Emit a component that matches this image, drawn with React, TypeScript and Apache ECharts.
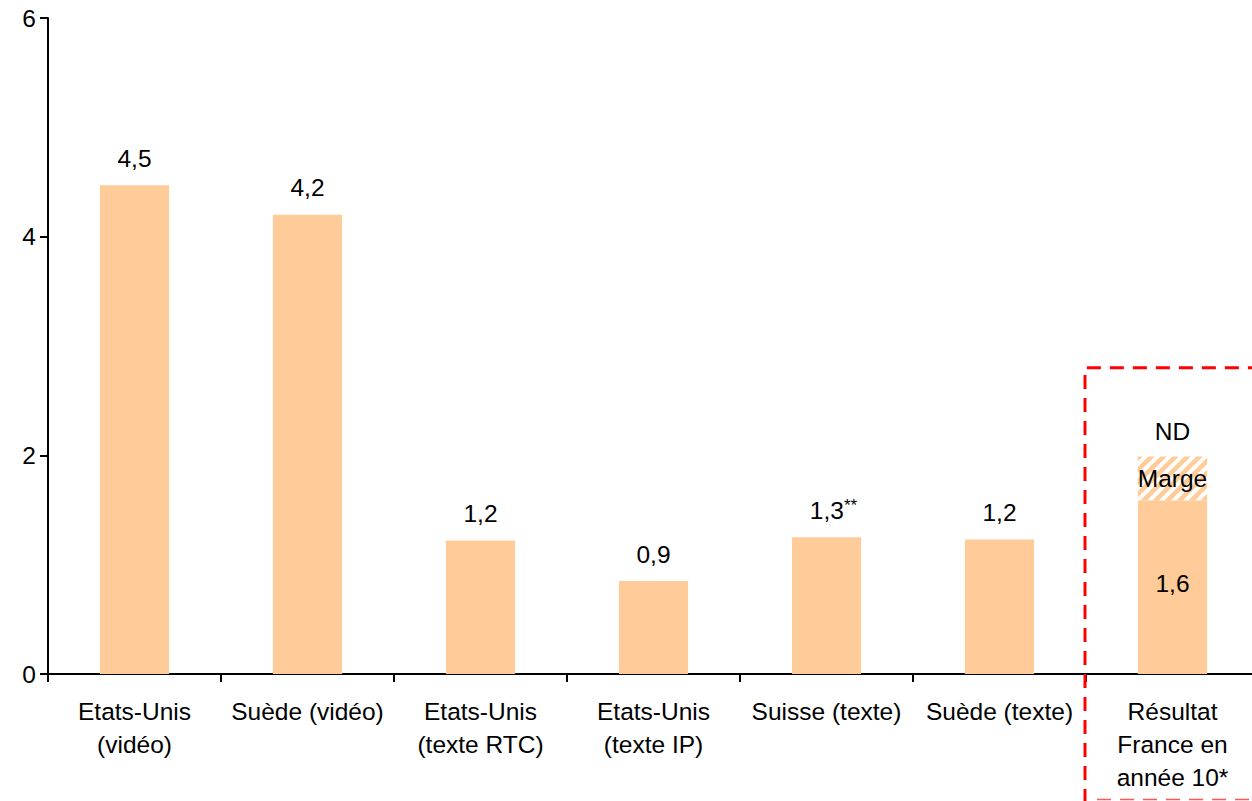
import React, { useEffect, useRef } from "react";
import * as echarts from "echarts";

const categories = [
  "Etats-Unis\n(vidéo)",
  "Suède (vidéo)",
  "Etats-Unis\n(texte RTC)",
  "Etats-Unis\n(texte IP)",
  "Suisse (texte)",
  "Suède (texte)",
  "Résultat\nFrance en\nannée 10*",
];
const baseValues = [4.47, 4.2, 1.22, 0.85, 1.25, 1.23, 1.59];
const valueLabels = ["4,5", "4,2", "1,2", "0,9", "1,3", "1,2", "1,6"];
const labelNotes = ["", "", "", "", "**", "", ""];
const marginValues = [null, null, null, null, null, null, 0.4];
const marginLabel = "Marge";
const ndValues = [null, null, null, null, null, null, 0];
const ndLabel = "ND";
const yMin = 0;
const yMax = 6;
const yInterval = 2;
const highlightIndex = 6;
const highlightTop = 2.8;

const FONT = "'Liberation Sans', Arial, Helvetica, sans-serif";
const BAR = "#FFCC99";
const FS = 24.5;

function makeHatch() {
  const s = 12;
  const c = document.createElement("canvas");
  c.width = s;
  c.height = s;
  const ctx = c.getContext("2d")!;
  ctx.fillStyle = "#ffffff";
  ctx.fillRect(0, 0, s, s);
  ctx.strokeStyle = BAR;
  ctx.lineWidth = 4.5;
  for (const o of [-s, 0, s]) {
    ctx.beginPath();
    ctx.moveTo(o - 2, s + 2);
    ctx.lineTo(o + s + 2, -2);
    ctx.stroke();
  }
  return c;
}

export default function App() {
  const ref = useRef<HTMLDivElement>(null);
  useEffect(() => {
    const chart = echarts.init(ref.current!, undefined, { renderer: "svg" });
    const hatch = makeHatch();
    const baseData = baseValues.map((v, i) => {
      const inside = i === highlightIndex;
      const note = labelNotes[i];
      return {
        value: v,
        label: {
          show: true,
          position: inside ? "inside" : "top",
          distance: 14,
          offset: inside ? [0, -4] : [0, 0],
          formatter: note
            ? `{pad| }{main|${valueLabels[i]}}{sup|${note}}`
            : `{main|${valueLabels[i]}}`,
          rich: {
            main: { fontSize: FS, fontFamily: FONT, color: "#000", lineHeight: 26 },
            sup: { fontSize: 17, fontFamily: FONT, color: "#000", verticalAlign: "top", lineHeight: 26 },
            pad: { width: 14, fontSize: 17 },
          },
        },
      };
    });
    chart.setOption({
      animation: false,
      backgroundColor: "#ffffff",
      textStyle: { fontFamily: FONT },
      grid: { left: 48, right: -7, top: 18, bottom: 127, containLabel: false, outerBoundsMode: "none" },
      xAxis: {
        type: "category",
        data: categories,
        axisLine: { lineStyle: { color: "#000", width: 2 } },
        axisTick: { show: true, length: 8, interval: 0, alignWithLabel: false, lineStyle: { color: "#000", width: 2 } },
        axisLabel: { interval: 0, fontSize: FS, fontFamily: FONT, color: "#000", lineHeight: 33, margin: 21 },
      },
      yAxis: {
        type: "value",
        min: yMin,
        max: yMax,
        interval: yInterval,
        splitLine: { show: false },
        axisLine: { show: true, lineStyle: { color: "#000", width: 2 } },
        axisTick: { show: true, length: 8, lineStyle: { color: "#000", width: 2 } },
        axisLabel: { fontSize: FS, fontFamily: FONT, color: "#000", margin: 12 },
      },
      series: [
        {
          type: "bar",
          stack: "s",
          barWidth: "40%",
          itemStyle: { color: BAR },
          data: baseData,
        },
        {
          type: "bar",
          stack: "s",
          barWidth: "40%",
          itemStyle: { color: { image: hatch, repeat: "repeat", imageWidth: 12, imageHeight: 12 } },
          label: { show: true, position: "inside", formatter: marginLabel, fontSize: FS, fontFamily: FONT, color: "#000" },
          data: marginValues,
        },
        {
          type: "bar",
          stack: "s",
          barWidth: "40%",
          itemStyle: { color: "transparent" },
          label: { show: true, position: "top", distance: 12, formatter: ndLabel, fontSize: FS, fontFamily: FONT, color: "#000" },
          data: ndValues,
        },
      ],
    });
    const cPrev = chart.convertToPixel({ xAxisIndex: 0 }, highlightIndex - 1) as number;
    const cCur = chart.convertToPixel({ xAxisIndex: 0 }, highlightIndex) as number;
    const bx = Math.round((cPrev + cCur) / 2) - 1;
    const ty = chart.convertToPixel({ yAxisIndex: 0 }, highlightTop) as number;
    const W = 1252;
    const H = 801;
    const dash = { stroke: "#FF0000", lineWidth: 3, lineDash: [14, 9], fill: "none" };
    chart.setOption({
      graphic: [
        { type: "polyline", silent: true, z: 100, shape: { points: [[bx, H + 2], [bx, ty], [W + 2, ty]] }, style: dash },
        { type: "line", silent: true, z: 100, shape: { x1: bx + 12, y1: H - 1.5, x2: W, y2: H - 1.5 }, style: { stroke: "#FF5555", lineWidth: 1.5, lineDash: [14, 9] } },
      ],
    });
    return () => chart.dispose();
  }, []);
  return <div ref={ref} style={{ position: "absolute", left: 0, top: 0, width: 1252, height: 801 }} />;
}
